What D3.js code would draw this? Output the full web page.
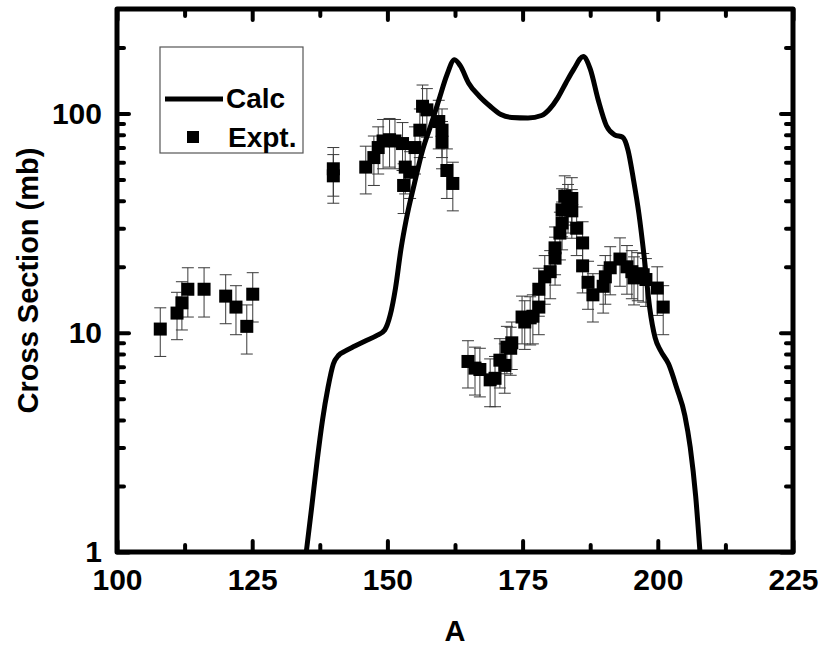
<!DOCTYPE html>
<html><head><meta charset="utf-8">
<script src="https://cdn.jsdelivr.net/npm/d3@7"></script>
<style>
html,body{margin:0;padding:0;background:#fff;}
text{font-family:Arial,"Liberation Sans",sans-serif;font-weight:bold;fill:#000;}
</style></head>
<body>
<svg id="c" width="821" height="646"></svg>
<script>
// ---- data ----
const calcA = [135,136,137,138,139,140,141,142,144,146,148,149.5,150.5,151.5,152.5,153.5,155,156.5,158,159.5,161,162.4,163.5,165,167,169,171,173,176,178.5,180,181.5,183,184.5,186.2,187.5,189,190.5,192,193.5,194.5,195.5,196.5,197.5,198.5,199.5,200.5,202,203.5,205,206,207,207.8];
const calcY = [1,1.6,2.6,4,5.6,7.2,7.9,8.2,8.7,9.2,9.7,10.3,12,16,24,33,48,68,88,115,150,176,165,138,120,108,99,96,95.5,98,105,118,138,160,182,160,115,88,80,78,68,50,35,22,13,9.5,8.3,7.2,5.6,4.2,3,1.8,1];

const exptA = [108,111.1,112,113.1,116.1,120.1,122,124,125.1,
  140,140,146,147.5,148.3,149.2,150.4,151.4,152.8,153.3,154.2,153,155.1,156,156.5,157.3,159.5,160.1,160.1,161,162.1,
  164.9,166.2,167.1,169,169.9,170.8,171.7,172.1,172.8,173,174.9,175.4,176.4,176.9,178,178,179.1,180.1,181,181,181.9,182.3,182.3,182.8,183.4,184.1,184.1,185,186.1,186.1,187.1,188,189.9,190.3,191.2,193,194.3,195.2,195.6,196.3,197.3,197.8,199.9,201];
const exptY = [10.4,12.3,13.7,15.8,15.8,14.7,13.1,10.7,15,
  56,52,57,63,70,75,76,75,73,57,54,47,70,84,108,104,92,84,74,55,48,
  7.4,6.9,6.8,6.1,6.2,7.5,7.1,8.6,8.5,9,11.8,11.2,11.7,11.9,13.1,15.8,18,19,21.9,24.4,28.5,31.7,36.4,42,38,41,36,30,25.7,20.2,17,14.9,16.3,18,19.8,21.7,20,19,17.8,18.6,18.4,17.5,16,13.1];
const exptErr = [2.6,3.0,3.4,4.0,4.0,3.7,3.3,2.7,3.8,
  14,13,14,16,17,19,19,19,18,14,13,12,17,21,27,26,23,21,18,14,12,
  1.8,1.7,1.7,1.5,1.6,1.9,1.8,2.1,2.1,2.2,2.9,2.8,2.9,3.0,3.3,3.9,4.5,4.7,5.4,6.0,7.0,7.8,9.0,10,9.5,10,9,7.5,6.4,5,4.2,3.7,4,4.5,4.9,5.4,5,4.7,4.4,4.6,4.6,4.3,4,3.3];

const xMajor = [100,125,150,175,200,225];
const xMinor = [112.5,137.5,162.5,187.5,212.5];
const yMajor = [1,10,100];
const yMinor = [2,3,4,5,6,7,8,9,20,30,40,50,60,70,80,90,200];

const xTitle = "A";
const yTitle = "Cross Section (mb)";
const legendLabels = ["Calc","Expt."];

// ---- layout ----
const L=117,R=793,T=9,B=552;
const FS="29px";
const svg=d3.select("#c");
const x=d3.scaleLinear().domain([100,225]).range([L,R]);
const y=d3.scaleLog().domain([1,300]).range([B,T]);

svg.append("defs").append("clipPath").attr("id","clip")
  .append("rect").attr("x",L).attr("y",T).attr("width",R-L).attr("height",B-T);

// error bars
const eg=svg.append("g").attr("stroke","#3a3a3a").attr("stroke-width",1).attr("fill","none");
exptA.forEach((a,i)=>{
  const cx=x(a), y1=y(exptY[i]+exptErr[i]), y0=y(Math.max(exptY[i]-exptErr[i],1.01));
  eg.append("line").attr("x1",cx).attr("x2",cx).attr("y1",y1).attr("y2",y0);
  eg.append("line").attr("x1",cx-6).attr("x2",cx+6).attr("y1",y1).attr("y2",y1);
  eg.append("line").attr("x1",cx-6).attr("x2",cx+6).attr("y1",y0).attr("y2",y0);
});
// squares
const s=13;
svg.append("g").selectAll("rect").data(exptA).join("rect")
  .attr("x",(d)=>x(d)-s/2).attr("y",(d,i)=>y(exptY[i])-s/2)
  .attr("width",s).attr("height",s).attr("fill","#000");

// calc line
const line=d3.line().x(d=>x(d[0])).y(d=>y(d[1])).curve(d3.curveMonotoneX);
svg.append("path").attr("clip-path","url(#clip)")
  .datum(calcA.map((a,i)=>[a,calcY[i]]))
  .attr("d",line).attr("fill","none").attr("stroke","#000").attr("stroke-width",5)
  .attr("stroke-linejoin","round");

// axes
function styleAxis(g){
  g.select(".domain").remove();
  g.selectAll(".tick line").attr("stroke","#000").attr("stroke-width",4).attr("stroke-linecap","round");
  g.selectAll(".tick text").style("font-size","30px").style("font-family","Arial, 'Liberation Sans', sans-serif")
    .style("font-weight","bold");
}
const fmt=d3.format("d");
svg.append("g").attr("transform",`translate(0,${B})`)
  .call(d3.axisBottom(x).tickValues(xMajor).tickSize(-11).tickPadding(17).tickFormat(fmt)).call(styleAxis);
svg.append("g").attr("transform",`translate(0,${B})`)
  .call(d3.axisBottom(x).tickValues(xMinor).tickSize(-7).tickFormat("")).call(styleAxis);
svg.append("g").attr("transform",`translate(0,${T})`)
  .call(d3.axisTop(x).tickValues(xMajor).tickSize(-11).tickFormat("")).call(styleAxis);
svg.append("g").attr("transform",`translate(0,${T})`)
  .call(d3.axisTop(x).tickValues(xMinor).tickSize(-7).tickFormat("")).call(styleAxis);
svg.append("g").attr("transform",`translate(${L},0)`)
  .call(d3.axisLeft(y).tickValues(yMajor).tickSize(-12).tickPadding(15).tickFormat(fmt)).call(styleAxis);
svg.append("g").attr("transform",`translate(${L},0)`)
  .call(d3.axisLeft(y).tickValues(yMinor).tickSize(-7).tickFormat("")).call(styleAxis);
svg.append("g").attr("transform",`translate(${R},0)`)
  .call(d3.axisRight(y).tickValues(yMajor).tickSize(-12).tickFormat("")).call(styleAxis);
svg.append("g").attr("transform",`translate(${R},0)`)
  .call(d3.axisRight(y).tickValues(yMinor).tickSize(-7).tickFormat("")).call(styleAxis);

// frame
svg.append("rect").attr("x",L).attr("y",T).attr("width",R-L).attr("height",B-T)
  .attr("fill","none").attr("stroke","#000").attr("stroke-width",5).attr("stroke-linejoin","round");

// titles
svg.append("text").attr("x",(L+R)/2).attr("y",641).attr("text-anchor","middle")
  .style("font-size",FS).text(xTitle);
svg.append("text").attr("transform",`translate(38,${(T+B)/2}) rotate(-90)`).attr("text-anchor","middle")
  .style("font-size",FS).text(yTitle);

// legend
const lg=svg.append("g");
lg.append("rect").attr("x",160).attr("y",47).attr("width",143).attr("height",106)
  .attr("fill","#fff").attr("stroke","#555").attr("stroke-width",1.2);
lg.append("line").attr("x1",165).attr("x2",223).attr("y1",99).attr("y2",99)
  .attr("stroke","#000").attr("stroke-width",5);
lg.append("text").attr("x",226).attr("y",108).style("font-size","28px").text(legendLabels[0]);
lg.append("rect").attr("x",187).attr("y",131).attr("width",12).attr("height",12).attr("fill","#000");
lg.append("text").attr("x",228).attr("y",147).style("font-size","28px").text(legendLabels[1]);
</script>
</body></html>
